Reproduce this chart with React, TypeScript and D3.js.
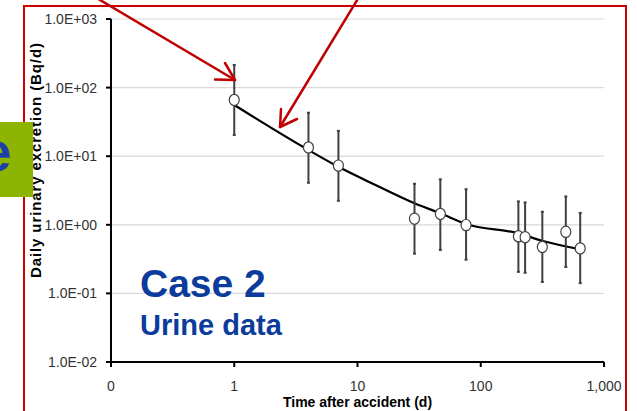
import React from 'react';
import * as d3 from 'd3';

// measured urine data (time in days, Bq/d)
const times = [1, 4, 7, 29, 47, 76, 202, 229, 316, 490, 641];
const values = [66, 13.4, 7.3, 1.23, 1.44, 0.99, 0.68, 0.66, 0.475, 0.79, 0.453];
const upper = [214, 43, 23.4, 3.96, 4.6, 3.3, 2.19, 2.12, 1.55, 2.59, 1.49];
const lower = [20.4, 4.1, 2.24, 0.38, 0.43, 0.31, 0.206, 0.2, 0.147, 0.243, 0.141];

// model fit curve
const fitTimes = [1, 4, 7, 14, 29, 47, 76, 202, 314, 638];
const fitValues = [55.7, 12.3, 7.0, 3.8, 2.06, 1.47, 1.03, 0.75, 0.586, 0.44];

const xTicks = [0.1, 1, 10, 100, 1000];
const yTicks = [0.01, 0.1, 1, 10, 100, 1000];
const yTickLabels = ['1.0E-02', '1.0E-01', '1.0E+00', '1.0E+01', '1.0E+02', '1.0E+03'];

const W = 637;
const H = 411;
const margin = { top: 19, right: 33, bottom: 49, left: 111 };

const tickFont = '"Liberation Sans Narrow", "Arial Narrow", "Liberation Sans", sans-serif';
const titleFont = '"Liberation Sans", Arial, sans-serif';
const blue = '#0b3c9c';
const red = '#c00000';

const App = () => {
  const x = d3.scaleLog().domain([0.1, 1000]).range([margin.left, W - margin.right]);
  const y = d3.scaleLog().domain([0.01, 1000]).range([H - margin.bottom, margin.top]);
  const fmtX = d3.format(',.0f');

  const fitLine = d3
    .line<number>()
    .x((d, i) => x(fitTimes[i]))
    .y((d) => y(d))
    .curve(d3.curveMonotoneX);

  const x0 = x.range()[0];
  const x1 = x.range()[1];
  const yb = y.range()[0];
  const yt = y.range()[1];

  return (
    <div style={{ position: 'fixed', left: 0, top: 0 }}>
      <svg width={W} height={H} style={{ display: 'block', background: '#fff' }}>
        {/* red frame */}
        <rect x={24} y={6} width={602} height={420} fill="none" stroke="#cc0000" strokeWidth={2} />

        {/* gridlines */}
        {yTicks.slice(1).map((t) => (
          <line key={t} x1={x0} x2={x1} y1={y(t)} y2={y(t)} stroke="#d9d9d9" strokeWidth={1.2} />
        ))}

        {/* axes */}
        <line x1={x0} x2={x0} y1={yt} y2={yb} stroke="#000" strokeWidth={2} />
        <line x1={x0} x2={x1} y1={yb} y2={yb} stroke="#000" strokeWidth={2} />
        {yTicks.map((t, i) => (
          <g key={t}>
            <line x1={x0 - 5} x2={x0} y1={y(t)} y2={y(t)} stroke="#000" strokeWidth={2} />
            <text x={97} y={y(t)} dy="0.35em" textAnchor="end" fontFamily={tickFont} fontSize={14} fill="#333">
              {yTickLabels[i]}
            </text>
          </g>
        ))}
        {xTicks.map((t) => (
          <g key={t}>
            <line x1={x(t)} x2={x(t)} y1={yb} y2={yb + 5} stroke="#000" strokeWidth={2} />
            <text x={x(t)} y={391} textAnchor="middle" fontFamily={tickFont} fontSize={14} fill="#333">
              {fmtX(t)}
            </text>
          </g>
        ))}

        {/* axis titles */}
        <text x={(x0 + x1) / 2} y={407} textAnchor="middle" fontFamily={titleFont} fontWeight="bold" fontSize={14} fill="#000">
          Time after accident (d)
        </text>
        <text
          transform={`translate(41,160.5) rotate(-90)`}
          textAnchor="middle"
          fontFamily={titleFont}
          fontWeight="bold"
          fontSize={15}
          textLength={235}
          lengthAdjust="spacing"
          fill="#000"
        >
          Daily urinary excretion (Bq/d)
        </text>

        {/* fit curve */}
        <path d={fitLine(fitValues) || ''} fill="none" stroke="#000" strokeWidth={2.2} />

        {/* error bars and points */}
        {times.map((t, i) => (
          <g key={i}>
            <line x1={x(t)} x2={x(t)} y1={y(upper[i])} y2={y(lower[i])} stroke="#404040" strokeWidth={2} />
            <line x1={x(t) - 1.5} x2={x(t) + 1.5} y1={y(upper[i])} y2={y(upper[i])} stroke="#404040" strokeWidth={2} />
            <line x1={x(t) - 1.5} x2={x(t) + 1.5} y1={y(lower[i])} y2={y(lower[i])} stroke="#404040" strokeWidth={2} />
            <ellipse cx={x(t)} cy={y(values[i])} rx={5} ry={5.6} fill="#fff" stroke="#404040" strokeWidth={1.2} />
          </g>
        ))}

        {/* case label */}
        <text x={140} y={297} fontFamily={titleFont} fontWeight="bold" fontSize={39} fill={blue}>
          Case 2
        </text>
        <text x={140} y={335} fontFamily={titleFont} fontWeight="bold" fontSize={29} fill={blue}>
          Urine data
        </text>

        {/* green tab on the left */}
        <rect x={0} y={122} width={33} height={75} fill="#8cb400" />
        <text x={-19} y={171} fontFamily={titleFont} fontWeight="bold" fontSize={55} fill="#1f3fa8">
          e
        </text>

        {/* annotation arrows */}
        <g stroke={red} strokeWidth={2.5} fill="none" strokeLinecap="round" strokeLinejoin="round">
          <line x1={95} y1={-3} x2={235} y2={80} />
          <polyline points="215,79.5 235,80 225,63" />
          <line x1={359} y1={-3} x2={280} y2={127} />
          <polyline points="281,109 280,127 297,119" />
        </g>
      </svg>
    </div>
  );
};

export default App;
